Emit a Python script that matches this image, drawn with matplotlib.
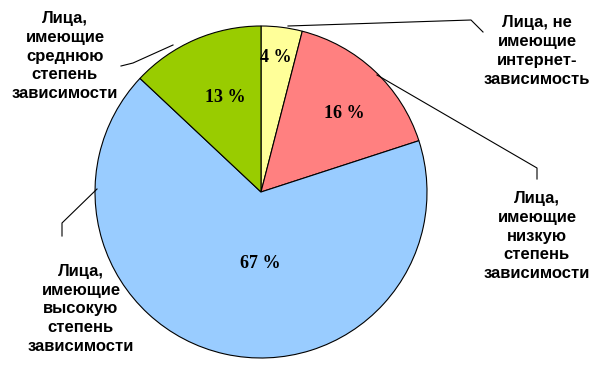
import matplotlib
matplotlib.use("Agg")
import matplotlib.pyplot as plt

categories = ["Лица, не\nимеющие\nинтернет-\nзависимость",
              "Лица,\nимеющие\nнизкую\nстепень\nзависимости",
              "Лица,\nимеющие\nвысокую\nстепень\nзависимости",
              "Лица,\nимеющие\nсреднюю\nстепень\nзависимости"]
values = [4, 16, 67, 13]
pct_labels = ["4 %", "16 %", "67 %", "13 %"]
colors = ["#FFFF99", "#FF8080", "#99CCFF", "#99CC00"]

W, H = 601, 370
fig = plt.figure(figsize=(W / 100, H / 100), dpi=100)

cx, cy, r = 261, 192, 166
# pie axes (y-up frame)
ax2 = fig.add_axes([0, 0, 1, 1])
ax2.pie(values, colors=colors, startangle=90, counterclock=False,
        center=(cx, H - cy), radius=r, frame=True,
        wedgeprops=dict(edgecolor="black", linewidth=0.8))
ax2.set_xlim(0, W)
ax2.set_ylim(0, H)
ax2.set_aspect("auto")
ax2.axis("off")

# overlay axes in pixel (y-down) coordinates for texts and leader lines
ax = fig.add_axes([0, 0, 1, 1])
ax.patch.set_alpha(0)
ax.set_xlim(0, W)
ax.set_ylim(H, 0)
ax.axis("off")

pct_pos = [(276, 58), (344, 113), (260, 264), (225, 97)]
for (x, y), t in zip(pct_pos, pct_labels):
    ax.text(x, y, t, ha="center", va="center", fontsize=13, fontweight="bold",
            family="Liberation Serif", color="black")

label_pos = [(537, 51), (537, 236), (81, 309), (65, 56)]
for (x, y), t in zip(label_pos, categories):
    ax.text(x, y, t, ha="center", va="center", fontsize=12, fontweight="bold",
            family="Liberation Sans", color="black", linespacing=1.32)

leaders = [
    [(288, 26), (471, 20), (483, 32)],
    [(377, 75), (537, 168), (537, 179)],
    [(97, 189), (62, 223), (62, 236)],
    [(173, 45), (133, 63), (121, 66)],
]
for pts in leaders:
    xs, ys = zip(*pts)
    ax.plot(xs, ys, color="black", linewidth=0.8)

fig.savefig("out.png", dpi=100)
